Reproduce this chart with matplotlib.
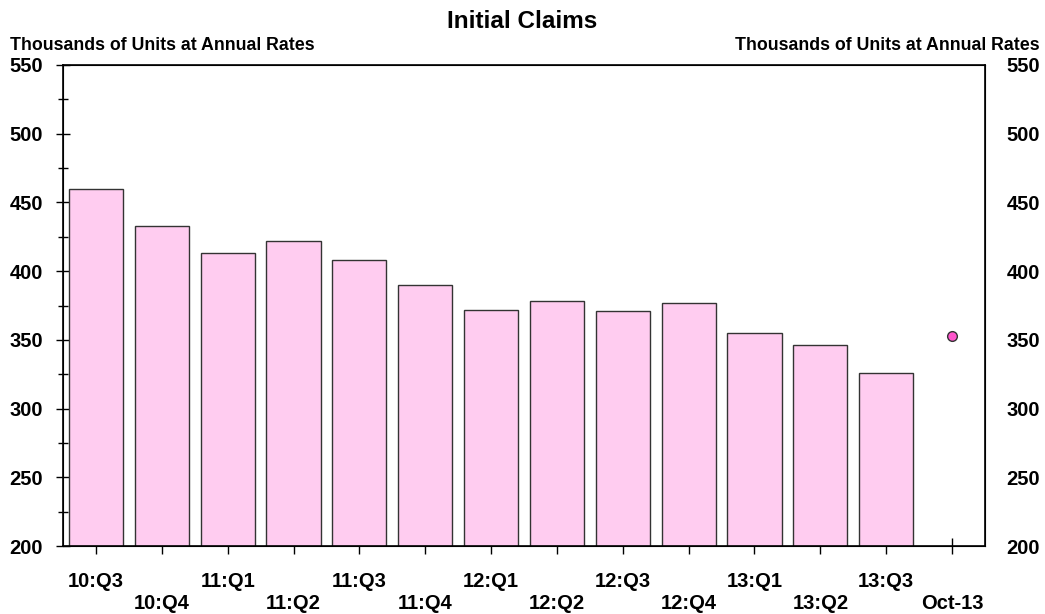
import numpy as np
import matplotlib.pyplot as plt
from matplotlib.ticker import MultipleLocator

plt.rcParams['font.family'] = ['Liberation Sans', 'DejaVu Sans']
plt.rcParams['font.weight'] = 'bold'

quarters = ['10:Q3', '10:Q4', '11:Q1', '11:Q2', '11:Q3', '11:Q4', '12:Q1',
            '12:Q2', '12:Q3', '12:Q4', '13:Q1', '13:Q2', '13:Q3']
claims = [460, 433, 413, 422, 408, 390, 372, 378, 371, 377, 355, 346, 326]
latest_label = 'Oct-13'
latest_value = 353

labels = quarters + [latest_label]
x = np.arange(len(labels))

fig = plt.figure(figsize=(10.45, 6.14), dpi=100)
ax = fig.add_axes([63 / 1045, 68 / 614, 922 / 1045, 481 / 614])

ax.bar(x[:-1], claims, width=0.82, bottom=0, color='#ffccf0',
       edgecolor='#333333', linewidth=1.0, zorder=2)
ax.plot(x[-1], latest_value, 'o', color='#ff55cc', markeredgecolor='#333333',
        markersize=7, zorder=3)

ax.set_xlim(-0.5, len(labels) - 0.5)
ax.set_ylim(200, 550)
ax.yaxis.set_major_locator(MultipleLocator(50))
ax.yaxis.set_minor_locator(MultipleLocator(25))
ax.tick_params(axis='y', which='major', direction='inout', length=9.5,
               width=1, labelsize=14.5, pad=9.5)
ax.tick_params(axis='y', which='minor', direction='inout', length=7, width=1)

ax.set_xticks(x)
ax.set_xticklabels([l if i % 2 == 0 else '\n' + l for i, l in enumerate(labels)])
ax.tick_params(axis='x', direction='inout', length=11, width=1,
               labelsize=14.5, pad=13)
for lab in ax.get_xticklabels():
    lab.set_linespacing(1.25)

for s in ax.spines.values():
    s.set_linewidth(1.2)

ax2 = ax.twinx()
ax2.set_ylim(200, 550)
ax2.yaxis.set_major_locator(MultipleLocator(50))
ax2.tick_params(axis='y', length=0, labelsize=14.5, pad=15.5)

for lab in ax.get_yticklabels() + ax2.get_yticklabels() + ax.get_xticklabels():
    lab.set_fontweight('bold')

fig.text(0.5, 1 - 22 / 614, 'Initial Claims', ha='center', va='center',
         fontsize=17.5, fontweight='bold')
fig.text(10 / 1045, 1 - 46 / 614, 'Thousands of Units at Annual Rates',
         ha='left', va='center', fontsize=12.8, fontweight='bold')
fig.text(1040 / 1045, 1 - 46 / 614, 'Thousands of Units at Annual Rates',
         ha='right', va='center', fontsize=12.8, fontweight='bold')

fig.savefig('out.png', dpi=100)
